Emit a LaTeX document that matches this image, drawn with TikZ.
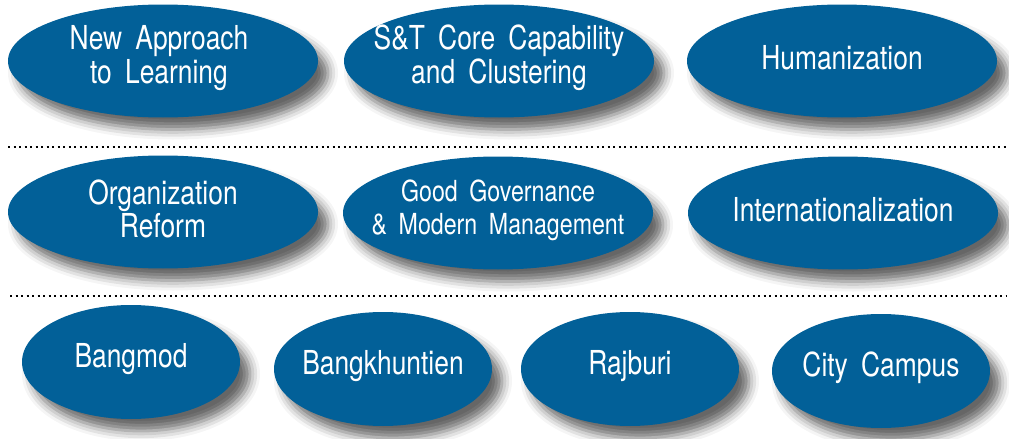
\documentclass[tikz,border=0pt]{standalone}
\usepackage{fontspec}
\setmainfont{TeX Gyre Heros}[FakeStretch=0.8, WordSpace=1.8]
\usetikzlibrary{shapes.geometric, shadows.blur}
\definecolor{ovalblue}{RGB}{2,96,152}

\begin{document}
\begin{tikzpicture}[x=0.5pt, y=-0.5pt,
			oval/.style={ellipse, fill=ovalblue, inner sep=0pt,
				blur shadow={shadow xshift=5pt, shadow yshift=-6pt, shadow blur radius=5pt, shadow opacity=60}},
			bigoval/.style={oval, minimum width=155pt, minimum height=56.5pt},
			smalloval/.style={oval, minimum width=109pt, minimum height=57pt},
			ovaltext/.style={text=white, align=center, inner sep=0pt, yshift=1.5pt,
				font=\fontsize{16.5}{16.8}\selectfont},
			sepline/.style={line width=1.2pt, dash pattern=on 1pt off 1.75pt}]
			
			\useasboundingbox (0,0) rectangle (1009,439);
			
			% Prima riga
			\node[bigoval] (napp) at (163,61) {};
			\node[bigoval] (stcore) at (499,61) {};
			\node[bigoval] (human) at (842,61) {};
			\node[ovaltext, xshift=-2pt] (napp-t) at (napp) {New Approach\\to Learning};
			\node[ovaltext] (stcore-t) at (stcore) {S\&T Core Capability\\and Clustering};
			\node[ovaltext] (human-t) at (human) {Humanization};
			
			% Seconda riga
			\node[bigoval] (orgref) at (163,212) {};
			\node[bigoval] (goodgov) at (498,213) {};
			\node[bigoval] (intl) at (843,213) {};
			\node[ovaltext] (orgref-t) at (orgref) {Organization\\Reform};
			\node[ovaltext, font=\fontsize{14.5}{16.5}\selectfont] (goodgov-t) at (goodgov) {Good Governance\\\& Modern Management};
			\node[ovaltext] (intl-t) at (intl) {Internationalization};
			
			% Campus
			\node[smalloval] (bangmod) at (131,362) {};
			\node[smalloval] (bangkh) at (383,369) {};
			\node[smalloval] (rajburi) at (630,369) {};
			\node[smalloval] (city) at (881,371) {};
			\node[ovaltext] (bangmod-t) at (bangmod) {Bangmod};
			\node[ovaltext] (bangkh-t) at (bangkh) {Bangkhuntien};
			\node[ovaltext] (rajburi-t) at (rajburi) {Rajburi};
			\node[ovaltext] (city-t) at (city) {City Campus};
			
			% Linee tratteggiate
			\coordinate (sep1l) at (8,147);
			\coordinate (sep1r) at (1006,147);
			\coordinate (sep2l) at (10,296);
			\coordinate (sep2r) at (1006,296);
			\draw[sepline] (sep1l) -- (sep1r);
			\draw[sepline] (sep2l) -- (sep2r);
		\end{tikzpicture}
\end{document}
